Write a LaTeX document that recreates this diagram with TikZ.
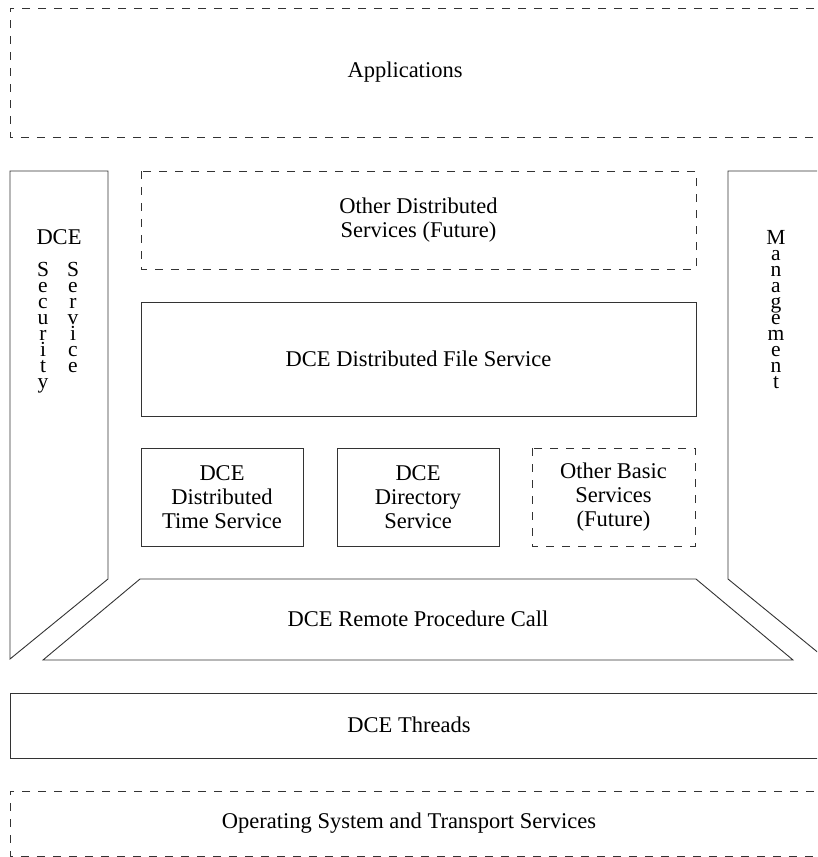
\documentclass[tikz,border=0pt]{standalone}
\usepackage{fontspec}
\setmainfont{Liberation Serif}
\begin{document}
\begin{tikzpicture}[x=1pt,y=-1pt,
  box/.style={draw=black!80, line width=0.9pt, line join=miter},
  dbox/.style={box, dash pattern=on 8pt off 8pt},
  lbl/.style={font=\fontsize{22.5}{24}\selectfont, align=center, inner sep=0pt},
  vert/.style={font=\fontsize{21.5}{16}\selectfont, align=center, inner sep=0pt, anchor=north}]
\useasboundingbox (0,0) rectangle (817,857);
\clip (0,0) rectangle (817,857);
% Applications
\draw[dbox] (830,8) -- (10,8) -- (10,137) -- (830,137);
\node[lbl] (apps) at (405,72) {Applications};
% Security column
\draw[box] (10,171) -- (108,171) -- (108,579) -- (10,659) -- cycle;
\node[lbl] (dcesec) at (59,237) {DCE};
\node[vert] (secu) at (43,262) {S\\e\\c\\u\\r\\i\\t\\y};
\node[vert] (serv) at (73,262) {S\\e\\r\\v\\i\\c\\e};
% Management column
\draw[box] (830,171) -- (728,171) -- (728,579) -- (826,659) -- (830,659);
\node[vert] (mgmt) at (776,230) {M\\a\\n\\a\\g\\e\\m\\e\\n\\t};
% Other distributed services
\draw[dbox] (141,171) rectangle (696,269);
\node[lbl] (ods) at (418.5,220) {Other Distributed\\Services (Future)};
% File service
\draw[box] (141,302) rectangle (696,416);
\node[lbl] (dfs) at (418.5,359) {DCE Distributed File Service};
% Basic services
\draw[box] (141,448) rectangle (303,546);
\node[lbl] (dts) at (222,497) {DCE\\Distributed\\Time Service};
\draw[box] (337,448) rectangle (499,546);
\node[lbl] (dir) at (418,497) {DCE\\Directory\\Service};
\draw[dbox] (532,448) rectangle (695,546);
\node[lbl] (obs) at (613.5,497) {Other Basic\\Services\\(Future)};
% RPC
\draw[box] (140,579) -- (696,579) -- (793,660) -- (43,660) -- cycle;
\node[lbl] (rpc) at (418,619) {DCE Remote Procedure Call};
% Threads
\draw[box] (830,693) -- (10,693) -- (10,758) -- (830,758);
\node[lbl] (thr) at (409,725) {DCE Threads};
% OS
\draw[dbox] (830,791) -- (10,791) -- (10,856) -- (830,856);
\node[lbl] (os) at (409,823) {Operating System and Transport Services};
\end{tikzpicture}
\end{document}
